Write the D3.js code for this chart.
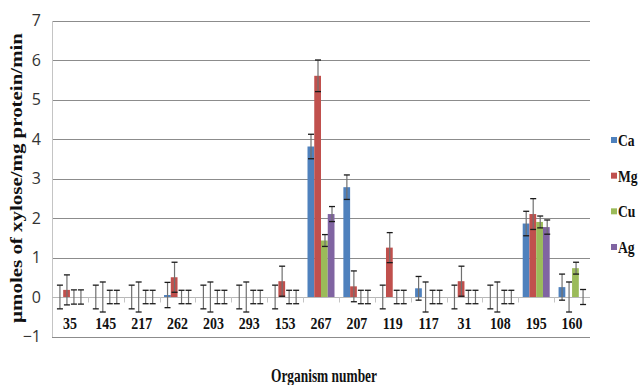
<!DOCTYPE html>
<html>
<head>
<meta charset="utf-8">
<script src="https://cdn.jsdelivr.net/npm/d3@7"></script>
<style>
  body { margin: 0; background: #fff; }
  svg { display: block; }
</style>
</head>
<body>
<div id="chart"></div>
<script>
// organism numbers on the x axis
var categories = ["35", "145", "217", "262", "203", "293", "153", "267", "207", "119", "117", "31", "108", "195", "160"];
var seriesNames = ["Ca", "Mg", "Cu", "Ag"];
var seriesColors = ["#4F81BD", "#C0504D", "#9BBB59", "#8064A2"];

// activity values
var ca = [0, 0, 0, 0.05, 0, 0, 0, 3.81, 2.78, 0, 0.22, 0, 0, 1.86, 0.25];
var mg = [0.18, 0, 0, 0.5, 0, 0, 0.4, 5.6, 0.27, 1.25, 0, 0.4, 0, 2.1, 0];
var cu = [0, 0, 0, 0, 0, 0, 0, 1.43, 0, 0, 0, 0, 0, 1.9, 0.73];
var ag = [0, 0, 0, 0, 0, 0, 0, 2.1, 0, 0, 0, 0, 0, 1.77, 0];

// error bar half-widths
var caErr = [0.3, 0.3, 0.3, 0.32, 0.3, 0.3, 0.3, 0.31, 0.31, 0.3, 0.3, 0.3, 0.3, 0.31, 0.33];
var mgErr = [0.38, 0.38, 0.38, 0.38, 0.38, 0.38, 0.38, 0.4, 0.39, 0.38, 0.38, 0.38, 0.38, 0.39, 0.38];
var cuErr = [0.18, 0.17, 0.17, 0.17, 0.17, 0.17, 0.17, 0.15, 0.17, 0.17, 0.17, 0.17, 0.17, 0.15, 0.15];
var agErr = [0.18, 0.17, 0.17, 0.17, 0.17, 0.17, 0.17, 0.19, 0.17, 0.17, 0.17, 0.17, 0.17, 0.18, 0.19];

var yTicks = [-1, 0, 1, 2, 3, 4, 5, 6, 7];

var values = [ca, mg, cu, ag];
var errors = [caErr, mgErr, cuErr, agErr];

var width = 643, height = 385;
var plot = { left: 52, right: 590, top: 20.5, bottom: 336.5 };
var serif = "'Liberation Serif', 'Times New Roman', serif";

var svg = d3.select("#chart").append("svg")
    .attr("width", width)
    .attr("height", height);

// squeeze bold serif text horizontally, like the condensed look in the original
function squeeze(sel, factor) {
    sel.each(function() {
        var len = this.getComputedTextLength();
        d3.select(this)
            .attr("textLength", len * factor)
            .attr("lengthAdjust", "spacingAndGlyphs");
    });
}

var x = d3.scaleBand()
    .domain(categories)
    .range([plot.left, plot.right]);

var xInner = d3.scaleBand()
    .domain(seriesNames)
    .range([0, 27]);

var y = d3.scaleLinear()
    .domain([-1, 7])
    .range([plot.bottom, plot.top]);

// gridlines
svg.append("g")
    .selectAll("line")
    .data(yTicks.filter(function(d) { return d != 0; }))
    .enter().append("line")
    .attr("x1", plot.left)
    .attr("x2", plot.right)
    .attr("y1", function(d) { return Math.round(y(d)) + 0.5; })
    .attr("y2", function(d) { return Math.round(y(d)) + 0.5; })
    .style("stroke", "#8c8c8c")
    .style("stroke-width", 1);

// y axis
var yAxis = svg.append("g")
    .attr("transform", "translate(" + plot.left + ",0)")
    .call(d3.axisLeft(y).tickValues(yTicks).tickSize(0).tickPadding(11));
yAxis.select(".domain").style("stroke", "#c4c4c4");
yAxis.selectAll("text")
    .style("font-family", "'Liberation Sans Narrow', 'Open Sans', sans-serif")
    .style("font-size", "16px")
    .style("fill", "#333");

// zero axis with category ticks
var zeroY = Math.round(y(0)) + 0.5;
svg.append("line")
    .attr("x1", plot.left)
    .attr("x2", plot.right)
    .attr("y1", zeroY)
    .attr("y2", zeroY)
    .style("stroke", "#b8b8b8");

svg.append("g")
    .selectAll("line")
    .data(categories.slice(1))
    .enter().append("line")
    .attr("x1", function(d) { return Math.round(x(d)) + 0.5; })
    .attr("x2", function(d) { return Math.round(x(d)) + 0.5; })
    .attr("y1", zeroY)
    .attr("y2", zeroY + 5)
    .style("stroke", "#c4c4c4");

// bars
var groups = svg.append("g")
    .selectAll("g")
    .data(categories)
    .enter().append("g")
    .attr("transform", function(d) {
        return "translate(" + (x(d) + (x.bandwidth() - 27) / 2) + ",0)";
    });

groups.each(function(cat, i) {
    var g = d3.select(this);
    seriesNames.forEach(function(s, j) {
        var v = values[j][i];
        var e = errors[j][i];
        var bx = xInner(s);
        var bw = xInner.bandwidth();
        if (v > 0) {
            g.append("rect")
                .attr("x", bx)
                .attr("y", y(v))
                .attr("width", bw)
                .attr("height", y(0) - y(v))
                .style("fill", seriesColors[j]);
        }
        var cx = Math.round(bx + bw / 2) + 0.5;
        g.append("line")
            .attr("x1", cx).attr("x2", cx)
            .attr("y1", y(v + e)).attr("y2", y(v - e))
            .style("stroke", "#707070")
            .style("stroke-width", 1.2);
        [v + e, v - e].forEach(function(t) {
            g.append("line")
                .attr("x1", cx - 3).attr("x2", cx + 3)
                .attr("y1", y(t)).attr("y2", y(t))
                .style("stroke", "#1a1a1a")
                .style("stroke-width", 1.3);
        });
    });
});

// category labels
svg.append("g")
    .selectAll("text")
    .data(categories)
    .enter().append("text")
    .attr("x", function(d) { return x(d) + x.bandwidth() / 2; })
    .attr("y", 329)
    .attr("text-anchor", "middle")
    .style("font-family", serif)
    .style("font-weight", "bold")
    .style("font-size", "17px")
    .style("fill", "#111")
    .text(function(d) { return d; })
    .call(squeeze, 0.82);

// axis titles
svg.append("text")
    .attr("transform", "translate(22,178) rotate(-90)")
    .attr("text-anchor", "middle")
    .attr("textLength", 290)
    .attr("lengthAdjust", "spacingAndGlyphs")
    .style("font-family", serif)
    .style("font-weight", "bold")
    .style("font-size", "16px")
    .style("fill", "#111")
    .text("µmoles of xylose/mg protein/min");

svg.append("text")
    .attr("x", 324)
    .attr("y", 382)
    .attr("text-anchor", "middle")
    .attr("textLength", 106)
    .attr("lengthAdjust", "spacingAndGlyphs")
    .style("font-family", serif)
    .style("font-weight", "bold")
    .style("font-size", "18px")
    .style("fill", "#111")
    .text("Organism number");

// legend
var legendY = d3.scalePoint()
    .domain(seriesNames)
    .range([140, 247]);

var legend = svg.append("g")
    .selectAll("g")
    .data(seriesNames)
    .enter().append("g")
    .attr("transform", function(d) { return "translate(611," + legendY(d) + ")"; });

legend.append("rect")
    .attr("x", 0)
    .attr("y", -3)
    .attr("width", 6)
    .attr("height", 6)
    .style("fill", function(d, i) { return seriesColors[i]; });

legend.append("text")
    .attr("x", 7)
    .attr("y", 6)
    .style("font-family", serif)
    .style("font-weight", "bold")
    .style("font-size", "17px")
    .style("fill", "#111")
    .text(function(d) { return d; })
    .call(squeeze, 0.8);
</script>
</body>
</html>
